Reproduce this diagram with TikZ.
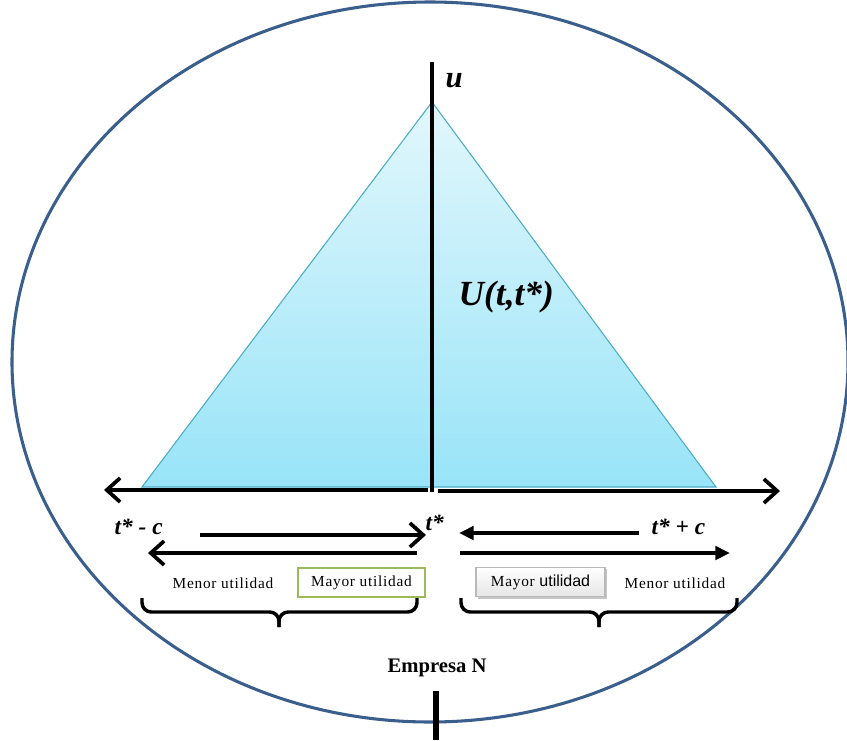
\documentclass[tikz,border=0pt]{standalone}
\usepackage{fontspec}
\setmainfont{Liberation Serif}
\setsansfont{Liberation Sans}
\newfontfamily\spaced[LetterSpace=5]{Liberation Serif}
\usetikzlibrary{arrows.meta}
\begin{document}
\begin{tikzpicture}[x=0.75pt,y=-0.75pt,
  axis/.style={line width=3.2pt},
  barb/.style={-{Straight Barb[length=10pt,width=18pt,line width=2.8pt]}},
  tri/.style={-{Triangle[length=11pt,width=10pt]}},
  thinarrow/.style={line width=3.2pt},
  lab/.style={font=\bfseries\itshape},
  util/.style={font=\spaced\fontsize{11.5}{13}\selectfont, inner sep=2pt},
  brc/.style={line width=2.6pt, rounded corners=7pt}]
\useasboundingbox (0,0) rectangle (847,740);
% ellipse
\draw[color={rgb,255:red,58;green,95;blue,140}, line width=2.3pt] (430,362) ellipse [x radius=418, y radius=360];
% triangle
\coordinate (apex) at (432,102);
\coordinate (bl) at (142,487);
\coordinate (br) at (716,487);
\shade[top color={rgb,255:red,226;green,247;blue,252}, bottom color={rgb,255:red,152;green,228;blue,248}] (apex) -- (br) -- (bl) -- cycle;
\draw[color={rgb,255:red,75;green,172;blue,198}, line width=0.8pt] (apex) -- (br) -- (bl) -- cycle;
% axes
\coordinate (utop) at (432,62);
\coordinate (o) at (432,492);
\draw[line width=2.4pt] (utop) -- (apex);
\draw[axis] (apex) -- (o);
\coordinate (ol) at (428,490);
\coordinate (xl) at (104,490);
\coordinate (orr) at (438,491);
\coordinate (xr) at (780,491);
\draw[axis,barb] (ol) -- (xl);
\draw[axis,barb] (orr) -- (xr);
\node[lab, font=\bfseries\itshape\fontsize{23}{25}\selectfont, anchor=west] (u) at (441,81) {u};
\node[lab, font=\bfseries\itshape\fontsize{26.5}{28}\selectfont, anchor=west] (U) at (454,297) {U(t,t*)};
% labels
\node[lab, font=\bfseries\itshape\fontsize{17.5}{19}\selectfont, anchor=west] (tmc) at (110,527) {t* - c};
\node[lab, font=\bfseries\itshape\fontsize{17.5}{19}\selectfont, anchor=west] (ts) at (421,523) {t*};
\node[lab, font=\bfseries\itshape\fontsize{17.5}{19}\selectfont, anchor=west] (tpc) at (647,527) {t* + c};
% small arrows left
\coordinate (a1s) at (200,535); \coordinate (a1e) at (426,535);
\coordinate (a2s) at (417,553); \coordinate (a2e) at (148,553);
\draw[thinarrow,barb] (a1s) -- (a1e);
\draw[thinarrow,barb] (a2s) -- (a2e);
% small arrows right
\coordinate (b1s) at (639,533); \coordinate (b1e) at (459,533);
\coordinate (b2s) at (460,553); \coordinate (b2e) at (730,553);
\draw[thinarrow,tri] (b1s) -- (b1e);
\draw[thinarrow,tri] (b2s) -- (b2e);
% utility labels
\node[util] (men1) at (223,583) {Menor utilidad};
\node[util, draw={rgb,255:red,155;green,187;blue,89}, line width=0.8pt, minimum width=127*0.75pt, minimum height=29*0.75pt] (may1) at (361.5,582.5) {Mayor utilidad};
\fill[gray!45] (478,569) rectangle (607,599);
\node[util, draw=gray!55, line width=0.8pt, top color=white, bottom color=gray!20, minimum width=129*0.75pt, minimum height=29*0.75pt] (may2) at (540.5,582) {Mayor {\sffamily\fontsize{12}{13}\selectfont utilidad}};
\node[util] (men2) at (675,583) {Menor utilidad};
% braces
\coordinate (l1) at (142,598); \coordinate (l2) at (417,598); \coordinate (lm) at (279,627);
\draw[brc] (l1) -- (142,612) -- (279,612) -- (lm);
\draw[brc] (l2) -- (417,612) -- (279,612) -- (lm);
\coordinate (r1) at (461,598); \coordinate (r2) at (737,598); \coordinate (rm) at (599,627);
\draw[brc] (r1) -- (461,612) -- (599,612) -- (rm);
\draw[brc] (r2) -- (737,612) -- (599,612) -- (rm);
% empresa
\node[font=\bfseries\fontsize{15.5}{17}\selectfont] (emp) at (437,668) {Empresa N};
\coordinate (bt) at (436,691); \coordinate (bb) at (436,740);
\draw[line width=5.2pt] (bt) -- (bb);
\end{tikzpicture}
\end{document}
